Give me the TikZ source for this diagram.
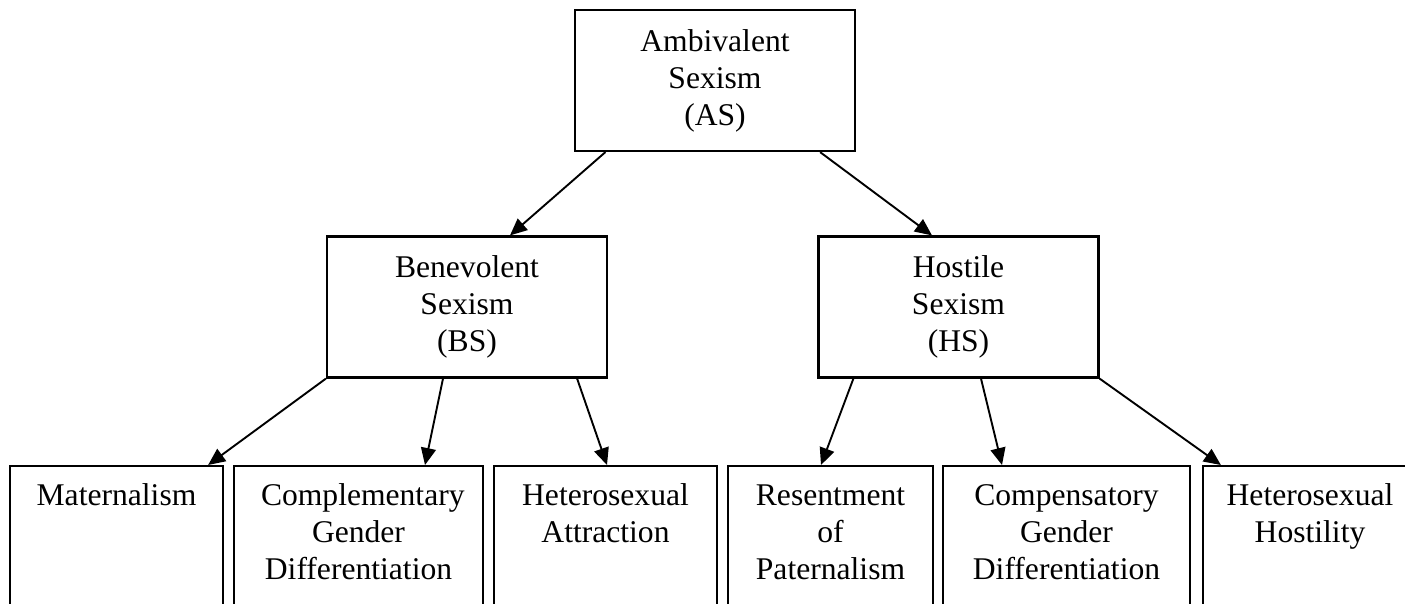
\documentclass[tikz,border=0pt]{standalone}
\usepackage{fontspec}
\setmainfont{Liberation Serif}
\usetikzlibrary{arrows.meta}
\newcommand{\lftxt}[1]{\parbox[t][150pt][t]{195pt}{\centering\rule{0pt}{39pt}#1}}
\begin{document}
\begin{tikzpicture}[x=1pt,y=-1pt,
  every node/.style={font=\fontsize{31.6}{37}\selectfont},
  midbox/.style={draw, line width=2.2pt, minimum width=280pt, minimum height=141pt, align=center, inner sep=0pt},
  leafbox/.style={draw, line width=2.2pt, inner sep=0pt, anchor=north},
  arr/.style={line width=1.9pt, -{Triangle[length=17pt,width=15pt]}}]
\useasboundingbox (0,0) rectangle (1405,603);
\clip (0,0) rectangle (1405,603);
\node[midbox] (as) at (715,80.5) {Ambivalent\\Sexism\\(AS)};
\node[midbox] (bs) at (467,307) {Benevolent\\Sexism\\(BS)};
\node[midbox] (hs) at (958.5,307) {Hostile\\Sexism\\(HS)};
\node[leafbox, minimum width=213pt] (mat) at (116.5,465) {\lftxt{Maternalism}};
\node[leafbox, minimum width=249pt] (cgd) at (358.5,465) {\lftxt{Complementary\\Gender\\Differentiation}};
\node[leafbox, minimum width=223pt] (hat) at (605.5,465) {\lftxt{Heterosexual\\Attraction}};
\node[leafbox, minimum width=205pt] (rop) at (830.5,465) {\lftxt{Resentment\\of\\Paternalism}};
\node[leafbox, minimum width=247pt] (cpg) at (1066.5,465) {\lftxt{Compensatory\\Gender\\Differentiation}};
\node[leafbox, minimum width=214pt] (hho) at (1310,465) {\lftxt{Heterosexual\\Hostility}};
\draw[arr] ([xshift=31.5pt]as.south west) -- ([xshift=43pt]bs.north);
\draw[arr] ([xshift=-36pt]as.south east) -- ([xshift=-26.5pt]hs.north);
\draw[arr] (bs.south west) -- ([xshift=-16pt]mat.north east);
\draw[arr] ([xshift=-24pt]bs.south) -- ([xshift=66.5pt]cgd.north);
\draw[arr] ([xshift=-31pt]bs.south east) -- ([xshift=1.5pt]hat.north);
\draw[arr] ([xshift=36pt]hs.south west) -- ([xshift=-9.5pt]rop.north);
\draw[arr] ([xshift=22.5pt]hs.south) -- ([xshift=-64.5pt]cpg.north);
\draw[arr] (hs.south east) -- ([xshift=19pt]hho.north west);
\end{tikzpicture}
\end{document}
